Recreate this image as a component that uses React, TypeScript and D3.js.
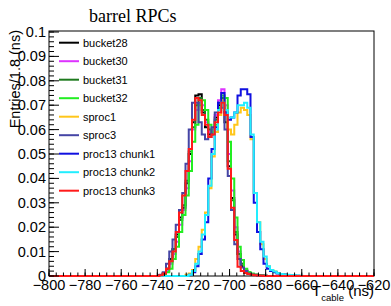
import React from "react";
import * as d3 from "d3";

// histogram binning: 100 bins of 1.8 ns from -800 to -620
const binLow = -800;
const binWidth = 1.8;
const nBins = 100;
const firstBin = 32; // the arrays below start at this bin, everything else is 0

const seriesNames = [
  "bucket28",
  "bucket30",
  "bucket31",
  "bucket32",
  "sproc1",
  "sproc3",
  "proc13 chunk1",
  "proc13 chunk2",
  "proc13 chunk3",
];
const seriesColors = [
  "#000000",
  "#dd33ff",
  "#1e7a1e",
  "#22ee22",
  "#ffc61a",
  "#4545a5",
  "#1010e0",
  "#22eeff",
  "#ff1a1a",
];

const bucket28 = [
  0, 0, 0.0004, 0.001, 0.003, 0.007, 0.011, 0.017,
  0.024, 0.028, 0.038, 0.05, 0.063, 0.074, 0.0745, 0.067,
  0.061, 0.058, 0.059, 0.065, 0.07, 0.071, 0.063, 0.045,
  0.032, 0.017, 0.009, 0.004, 0.002, 0.0012, 0.0008, 0.0005,
  0.0003, 0.0002, 0.0001, 0, 0, 0, 0, 0,
];
const bucket30 = [
  0, 0, 0, 0.0008, 0.002, 0.005, 0.009, 0.014,
  0.021, 0.027, 0.036, 0.047, 0.06, 0.068, 0.071, 0.07,
  0.063, 0.059, 0.06, 0.066, 0.072, 0.0765, 0.07, 0.05,
  0.035, 0.02, 0.01, 0.005, 0.0025, 0.0014, 0.0008, 0.0005,
  0.0003, 0.0002, 0.0001, 0, 0, 0, 0, 0,
];
const bucket31 = [
  0, 0, 0.0003, 0.001, 0.003, 0.006, 0.011, 0.016,
  0.023, 0.029, 0.039, 0.051, 0.061, 0.07, 0.073, 0.068,
  0.064, 0.06, 0.058, 0.064, 0.069, 0.073, 0.067, 0.047,
  0.031, 0.018, 0.009, 0.005, 0.0022, 0.0012, 0.0007, 0.0004,
  0.0002, 0.0001, 0, 0, 0, 0, 0, 0,
];
const bucket32 = [
  0, 0, 0, 0.0005, 0.0015, 0.003, 0.007, 0.012,
  0.018, 0.025, 0.033, 0.043, 0.055, 0.062, 0.07, 0.072,
  0.068, 0.062, 0.059, 0.062, 0.069, 0.074, 0.073, 0.055,
  0.04, 0.024, 0.012, 0.0066, 0.003, 0.0016, 0.001, 0.0006,
  0.0004, 0.0002, 0.0001, 0, 0, 0, 0, 0,
];
const sproc1 = [
  0, 0, 0, 0, 0, 0, 0, 0,
  0, 0, 0.0005, 0.001, 0.0025, 0.007, 0.012, 0.019,
  0.026, 0.036, 0.049, 0.059, 0.066, 0.072, 0.066, 0.06,
  0.058, 0.062, 0.067, 0.069, 0.068, 0.066, 0.056, 0.034,
  0.022, 0.013, 0.007, 0.004, 0.0025, 0.0018, 0.0012, 0.0008,
  0.0006, 0.0004, 0.0003, 0.0002, 0.0001, 0, 0, 0,
];
const sproc3 = [
  0, 0, 0.0005, 0.0015, 0.005, 0.01, 0.015, 0.021,
  0.027, 0.034, 0.046, 0.06, 0.071, 0.071, 0.063, 0.058,
  0.056, 0.057, 0.061, 0.067, 0.071, 0.069, 0.06, 0.041,
  0.027, 0.013, 0.007, 0.0035, 0.002, 0.001, 0.0006, 0.0004,
  0.0002, 0.0001, 0, 0, 0, 0, 0, 0,
];
const chunk1 = [
  0, 0, 0, 0, 0, 0, 0, 0,
  0, 0, 0, 0.0005, 0.0015, 0.004, 0.009, 0.015,
  0.022, 0.04, 0.052, 0.061, 0.071, 0.075, 0.067, 0.064,
  0.065, 0.067, 0.074, 0.0765, 0.0765, 0.0745, 0.057, 0.03,
  0.018, 0.011, 0.005, 0.003, 0.002, 0.0015, 0.001, 0.0008,
  0.0006, 0.0004, 0.0003, 0.0002, 0.0001, 0, 0, 0,
];
const chunk2 = [
  0, 0, 0, 0, 0, 0, 0, 0,
  0, 0, 0, 0.0005, 0.002, 0.005, 0.01, 0.017,
  0.025, 0.037, 0.05, 0.06, 0.068, 0.071, 0.068, 0.065,
  0.065, 0.067, 0.07, 0.07, 0.071, 0.069, 0.058, 0.034,
  0.022, 0.014, 0.008, 0.004, 0.0025, 0.0018, 0.0012, 0.0008,
  0.0006, 0.0005, 0.0004, 0.0003, 0.0002, 0.0001, 0, 0,
];
const chunk3 = [
  0, 0, 0.0003, 0.001, 0.003, 0.006, 0.01, 0.018,
  0.026, 0.033, 0.043, 0.052, 0.064, 0.073, 0.072, 0.066,
  0.062, 0.057, 0.058, 0.063, 0.067, 0.071, 0.066, 0.044,
  0.028, 0.0148, 0.0038, 0.002, 0.0012, 0.0008, 0.0005, 0.0003,
  0.0002, 0.0001, 0, 0, 0, 0, 0, 0,
];
const seriesValues = [bucket28, bucket30, bucket31, bucket32, sproc1, sproc3, chunk1, chunk2, chunk3];

const xTickLabels = [-800, -780, -760, -740, -720, -700, -680, -660, -640, -620];
const yTickLabels = [0, 0.01, 0.02, 0.03, 0.04, 0.05, 0.06, 0.07, 0.08, 0.09, 0.1];

const W = 391;
const H = 306;
const frame = { left: 49, right: 374, top: 31, bottom: 276 };
const sans = "'Liberation Sans', Arial, Helvetica, sans-serif";

const fmt = (v: number) => (v < 0 ? "\u2212" + Math.abs(v) : String(v));

const App = () => {
  const x = d3.scaleLinear().domain([-800, -620]).range([frame.left, frame.right]);
  const y = d3.scaleLinear().domain([0, 0.1]).range([frame.bottom, frame.top + 1]);

  const line = d3
    .line<[number, number]>()
    .x((d) => x(d[0]))
    .y((d) => y(d[1]))
    .curve(d3.curveStepAfter);

  const paths = seriesValues.map((vals) => {
    const full = new Array(nBins).fill(0);
    vals.forEach((v, k) => (full[firstBin + k] = v));
    const pts: [number, number][] = full.map((v, i) => [binLow + i * binWidth, v]);
    pts.push([binLow + nBins * binWidth, full[nBins - 1]]);
    return line(pts) || "";
  });

  // minor ticks
  const xMinor = d3.range(-800, -619, 4);
  const yMinor = d3.range(0, 0.1001, 0.002);

  return (
    <svg width={W} height={H} style={{ position: "absolute", left: 0, top: 0, background: "#fff" }}>
      <defs>
        <clipPath id="frameClip">
          <rect x={frame.left} y={frame.top} width={frame.right - frame.left} height={frame.bottom - frame.top + 2} />
        </clipPath>
      </defs>

      {/* frame */}
      <rect
        x={frame.left}
        y={frame.top}
        width={frame.right - frame.left}
        height={frame.bottom - frame.top}
        fill="none"
        stroke="#000"
        strokeWidth={1}
      />

      {/* histograms */}
      <g clipPath="url(#frameClip)">
        {paths.map((d, i) => (
          <path key={i} d={d} fill="none" stroke={seriesColors[i]} strokeWidth={2} />
        ))}
      </g>

      {/* y axis ticks */}
      {yMinor.map((v, i) => (
        <line key={"ym" + i} x1={frame.left} x2={frame.left + 5} y1={y(v)} y2={y(v)} stroke="#000" />
      ))}
      {yTickLabels.map((v) => (
        <g key={"y" + v}>
          <line x1={frame.left} x2={frame.left + 10} y1={y(v)} y2={y(v)} stroke="#000" />
          <text x={frame.left - 3} y={y(v) + 5} textAnchor="end" fontFamily={sans} fontSize={14.5}>
            {v}
          </text>
        </g>
      ))}

      {/* x axis ticks */}
      {xMinor.map((v) => (
        <line key={"xm" + v} x1={x(v)} x2={x(v)} y1={frame.bottom} y2={frame.bottom - 3.5} stroke="#000" />
      ))}
      {xTickLabels.map((v) => (
        <g key={"x" + v}>
          <line x1={x(v)} x2={x(v)} y1={frame.bottom} y2={frame.bottom - 7} stroke="#000" />
          <text x={x(v)} y={290} textAnchor="middle" fontFamily={sans} fontSize={14.5}>
            {fmt(v)}
          </text>
        </g>
      ))}

      {/* axis titles */}
      <text
        transform={`translate(20,${frame.top - 1}) rotate(-90)`}
        textAnchor="end"
        fontFamily={sans}
        fontSize={14.5}
      >
        Entries/1.8 (ns)
      </text>
      <text x={frame.right} y={296} textAnchor="end" fontFamily={sans} fontSize={15}>
        T
        <tspan fontSize={9.5} dy={5}>
          cable
        </tspan>
        <tspan dy={-5}> (ns)</tspan>
      </text>

      {/* title */}
      <text x={89} y={22} fontFamily="'Liberation Serif', 'Times New Roman', serif" fontSize={18}>
        barrel RPCs
      </text>

      {/* legend */}
      {seriesNames.map((name, i) => {
        const ly = 42.7 + i * 18.5;
        return (
          <g key={name}>
            <line x1={59} x2={79} y1={ly} y2={ly} stroke={seriesColors[i]} strokeWidth={2} />
            <text x={83} y={ly + 4} fontFamily={sans} fontSize={11}>
              {name}
            </text>
          </g>
        );
      })}
    </svg>
  );
};

export default App;
